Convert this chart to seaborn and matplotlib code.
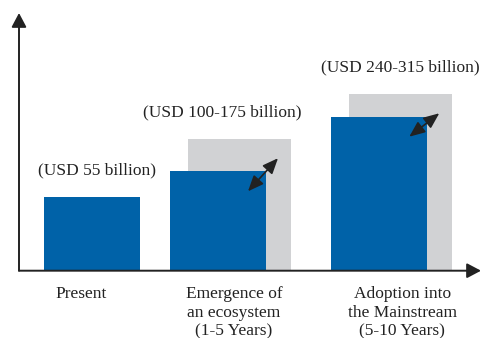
import numpy as np
import matplotlib
matplotlib.use("Agg")
import matplotlib.pyplot as plt
from matplotlib.transforms import offset_copy
import seaborn as sns

# ---- data -------------------------------------------------------------
stages = [
    "Present",
    "Emergence of\nan ecosystem\n(1-5 Years)",
    "Adoption into\nthe Mainstream\n(5-10 Years)",
]
low_bn = [55, 100, 240]          # lower estimate (USD billion)
high_bn = [175, 315]             # upper estimate for the two future stages
value_labels = ["(USD 55 billion)", "(USD 100-175 billion)", "(USD 240-315 billion)"]

# ---- layout -------------------------------------------------------------
W, H, DPI = 482, 338, 100
PX = 126.0                                   # pixels per stage unit on x
stage_x = np.array([0.0, 1.0, 2.28])         # stage positions
BLUE_W = 96 / PX
GRAY_W = 103 / PX
GRAY_SHIFT = 21.5 / PX
label_dx = np.array([-11, 16, 23]) / PX      # category label offsets
value_dx_px = [5, 4, 21]                     # value label offsets (pixels)

BLUE = "#0062A8"
GRAY = "#D1D2D4"
INK = "#222222"

sns.set_theme(style="white")
plt.rcParams["font.family"] = ["Liberation Serif", "DejaVu Serif"]

fig = plt.figure(figsize=(W / DPI, H / DPI), dpi=DPI)
ax = fig.add_axes([19 / W, (H - 270.7) / H, 462 / W, 257.7 / H])

gray_x = stage_x[1:] + GRAY_SHIFT
sns.barplot(x=gray_x, y=high_bn, native_scale=True, orient="x",
            width=GRAY_W / np.min(np.diff(gray_x)), color=GRAY, saturation=1,
            linewidth=0, errorbar=None, ax=ax, zorder=1)
sns.barplot(x=stage_x, y=low_bn, native_scale=True, orient="x",
            width=BLUE_W / np.min(np.diff(stage_x)), color=BLUE, saturation=1,
            linewidth=0, errorbar=None, ax=ax, zorder=2)

# compressed value scale so the conceptual bars stay readable
ax.set_yscale("function", functions=(lambda v: np.sqrt(np.clip(v, 0, None)),
                                     lambda v: np.square(v)))
ax.set_ylim(0, 672)
ax.set_xlim(-73 / PX, 389 / PX)

for s in ax.spines.values():
    s.set_visible(False)
ax.set_yticks([])
ax.set_xticks(stage_x + label_dx)
ax.set_xticklabels(stages, fontsize=12.5, color=INK, linespacing=1.22)
ax.tick_params(axis="x", length=0, pad=11)
ax.set_xlabel("")
ax.set_ylabel("")

# axes with arrow heads
axis_arrow = dict(arrowstyle="-|>,head_length=0.85,head_width=0.45",
                  mutation_scale=10, lw=1.4, color=INK, shrinkA=0, shrinkB=0)
ax.annotate("", xy=(0, 1), xytext=(0, 0), xycoords="axes fraction",
            arrowprops=axis_arrow, annotation_clip=False)
ax.annotate("", xy=(1, 0), xytext=(0, 0), xycoords="axes fraction",
            arrowprops=axis_arrow, annotation_clip=False)

# value labels above each stage
tops = [low_bn[0]] + high_bn
for i, (x, top, txt) in enumerate(zip(stage_x, tops, value_labels)):
    ax.annotate(txt, xy=(x, top), xytext=(value_dx_px[i] * 0.72, 19),
                textcoords="offset points", ha="center", va="center",
                fontsize=12.5, color=INK, annotation_clip=False)

# double-headed range arrows from the low bar to the high bar
blue_right = stage_x + BLUE_W / 2
for x, lo, hi in zip(blue_right[1:], low_bn[1:], high_bn):
    ax.annotate("", xy=(x, hi), xytext=(x, lo),
                xycoords=offset_copy(ax.transData, fig=fig, x=12, y=-19, units="dots"),
                textcoords=offset_copy(ax.transData, fig=fig, x=-18, y=-20, units="dots"),
                arrowprops=dict(arrowstyle="<|-|>,head_length=0.95,head_width=0.4",
                                mutation_scale=10, lw=1.2, color=INK,
                                shrinkA=0, shrinkB=0),
                zorder=4)

fig.savefig("out.png", dpi=DPI)
